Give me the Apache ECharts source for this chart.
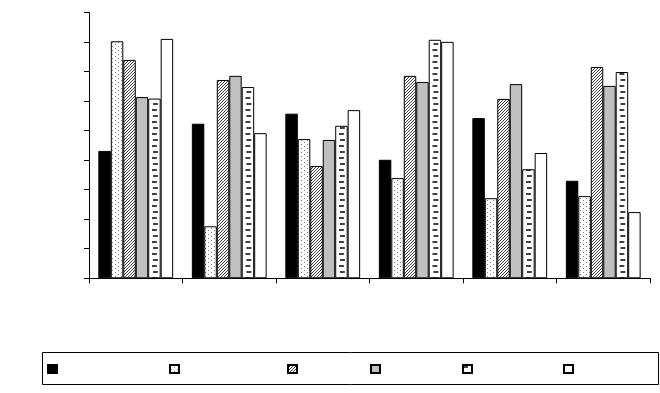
<!DOCTYPE html>
<html>
<head>
<meta charset="utf-8">
<script src="https://cdn.jsdelivr.net/npm/echarts@6/dist/echarts.min.js"></script>
<style>html,body{margin:0;padding:0;background:#fff;}#c{width:660px;height:393px;}</style>
</head>
<body>
<div id="c"></div>
<script>
var categories = ['1', '2', '3', '4', '5', '6'];
var seriesNames = ['Series 1', 'Series 2', 'Series 3', 'Series 4', 'Series 5', 'Series 6'];
var s1 = [4.31, 5.23, 5.57, 4.01, 5.42, 3.30];
var s2 = [8.02, 1.76, 4.71, 3.39, 2.71, 2.78];
var s3 = [7.39, 6.71, 3.80, 6.85, 6.07, 7.15];
var s4 = [6.13, 6.85, 4.68, 6.64, 6.57, 6.51];
var s5 = [6.08, 6.47, 5.16, 8.07, 3.69, 6.98];
var s6 = [8.10, 4.91, 5.69, 8.00, 4.24, 2.24];
var yTicks = [0, 1, 2, 3, 4, 5, 6, 7, 8, 9];

function makeTile(w, h, rects, fg) {
  var c = document.createElement('canvas');
  c.width = w; c.height = h;
  var ctx = c.getContext('2d');
  ctx.fillStyle = '#ffffff';
  ctx.fillRect(0, 0, w, h);
  ctx.fillStyle = fg;
  rects.forEach(function (r) { ctx.fillRect(r[0], r[1], r[2], r[3]); });
  return {image: c, repeat: 'repeat'};
}
var dotted = makeTile(6, 4, [[1, 0, 1, 1], [4, 2, 1, 1]], '#808080');
var hatched = makeTile(3, 3, [[0, 2, 1, 1], [1, 1, 1, 1], [2, 0, 1, 1]], '#404040');
var dashed = makeTile(12, 12, [[0, 1, 5, 2], [1, 7, 5, 2]], '#404040');
dashed.scaleX = 93.5 / 96;

var values = [s1, s2, s3, s4, s5, s6];
var fills = ['#000000', dotted, hatched, '#c0c0c0', dashed, '#ffffff'];
var legendLefts = [47, 169, 287, 370, 462, 563];

var series = values.map(function (v, i) {
  return {
    name: seriesNames[i],
    type: 'bar',
    data: v,
    barGap: '0%',
    barCategoryGap: '20%',
    itemStyle: {color: fills[i], borderColor: '#000', borderWidth: 1},
    emphasis: {disabled: true},
    animation: false
  };
});

var legends = seriesNames.map(function (n, i) {
  return {
    data: [n],
    left: legendLefts[i],
    top: 364,
    padding: 0,
    itemWidth: 9,
    itemHeight: 8,
    icon: 'rect',
    formatter: function () { return ''; },
    selectedMode: false,
    textStyle: {fontSize: 1}
  };
});

var chart = echarts.init(document.getElementById('c'), null, {renderer: 'canvas'});
chart.setOption({
  animation: false,
  backgroundColor: '#fff',
  grid: {left: 89, top: 12.3, width: 561, height: 266},
  legend: legends,
  graphic: [{
    type: 'rect',
    shape: {x: 42.5, y: 352.5, width: 616, height: 32},
    style: {fill: 'none', stroke: '#000', lineWidth: 1}
  }],
  xAxis: {
    type: 'category',
    data: categories,
    axisLine: {lineStyle: {color: '#000', width: 1}},
    axisTick: {show: true, length: 5, lineStyle: {color: '#000'}},
    axisLabel: {show: false}
  },
  yAxis: {
    type: 'value',
    min: yTicks[0],
    max: yTicks[yTicks.length - 1],
    interval: 1,
    axisLine: {show: true, lineStyle: {color: '#000', width: 1}},
    axisTick: {show: true, length: 5, lineStyle: {color: '#000'}},
    axisLabel: {show: false},
    splitLine: {show: false}
  },
  series: series
});
</script>
</body>
</html>
